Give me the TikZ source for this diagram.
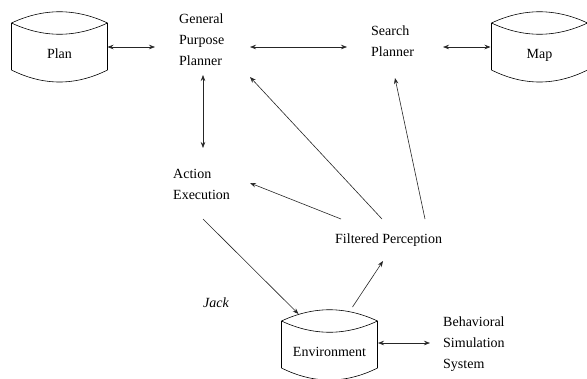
\documentclass[tikz,border=0pt]{standalone}
\usepackage{fontspec}
\setmainfont{Liberation Serif}
\usetikzlibrary{arrows.meta}
\newcommand\mylines[1]{\begin{tabular}[t]{@{}l@{}}#1\end{tabular}}
\begin{document}
\begin{tikzpicture}[x=1pt,y=-1pt,
  lbl/.style={inner sep=0pt,anchor=base west,font=\fontsize{14}{21}\selectfont},
  drumlbl/.style={inner sep=0pt,anchor=base,font=\fontsize{14}{21}\selectfont},
  drumline/.style={line width=0.6pt,black},
  conn/.style={line width=0.6pt,black!85,-{Stealth[length=6pt,width=4.5pt,inset=2pt]}},
  dconn/.style={line width=0.6pt,black!85,{Stealth[length=6pt,width=4.5pt,inset=2pt]}-{Stealth[length=6pt,width=4.5pt,inset=2pt]}}]
\useasboundingbox (0,0) rectangle (587,378);

% drum shapes (labels)
\node[drumlbl] (plan) at (59.5,58) {Plan};
\node[drumlbl] (map) at (539.5,58) {Map};
\node[drumlbl] (env) at (329.5,356) {Environment};

\foreach \n in {plan,map,env}{
  \begin{scope}[shift={(\n.base)}]
    \draw[drumline] (-48,-35) .. controls (-16,-50) and (16,-50) .. (48,-35);
    \draw[drumline] (-48,-35) .. controls (-16,-20) and (16,-20) .. (48,-35);
    \draw[drumline] (-48,-35) -- (-48,12) .. controls (-16,28) and (16,28) .. (48,12) -- (48,-35);
  \end{scope}
}

% text nodes
\node[lbl] (gpp) at (179,23) {\mylines{General\\Purpose\\Planner}};
\node[lbl] (sp) at (371,35) {\mylines{Search\\Planner}};
\node[lbl] (ae) at (173,178) {\mylines{Action\\Execution}};
\node[lbl] (fp) at (335,243) {Filtered Perception};
\node[lbl] (jack) at (203,307) {\itshape Jack};
\node[lbl] (bss) at (443,326) {\mylines{Behavioral\\Simulation\\System}};

% connectors
\draw[dconn] ([shift={(48,-11)}]plan.base) -- ([shift={(-24,24)}]gpp.base west);
\draw[dconn] ([shift={(71,24)}]gpp.base west) -- ([shift={(-24,12)}]sp.base west);
\draw[dconn] ([shift={(72,12)}]sp.base west) -- ([shift={(-49,-11)}]map.base);
\draw[dconn] ([shift={(24,52)}]gpp.base west) -- ([shift={(30,-30)}]ae.base west);
\draw[conn] ([shift={(47,-24)}]fp.base west) -- ([shift={(71,54)}]gpp.base west);
\draw[conn] ([shift={(90,-24)}]fp.base west) -- ([shift={(24,43)}]sp.base west);
\draw[conn] ([shift={(6,-24)}]fp.base west) -- ([shift={(77,5)}]ae.base west);
\draw[conn] ([shift={(30,41)}]ae.base west) -- ([shift={(-31,-42)}]env.base);
\draw[conn] ([shift={(23,-49)}]env.base) -- ([shift={(48,18)}]fp.base west);
\draw[dconn] ([shift={(48.5,-13)}]env.base) -- ([shift={(-13,17)}]bss.base west);
\end{tikzpicture}
\end{document}
